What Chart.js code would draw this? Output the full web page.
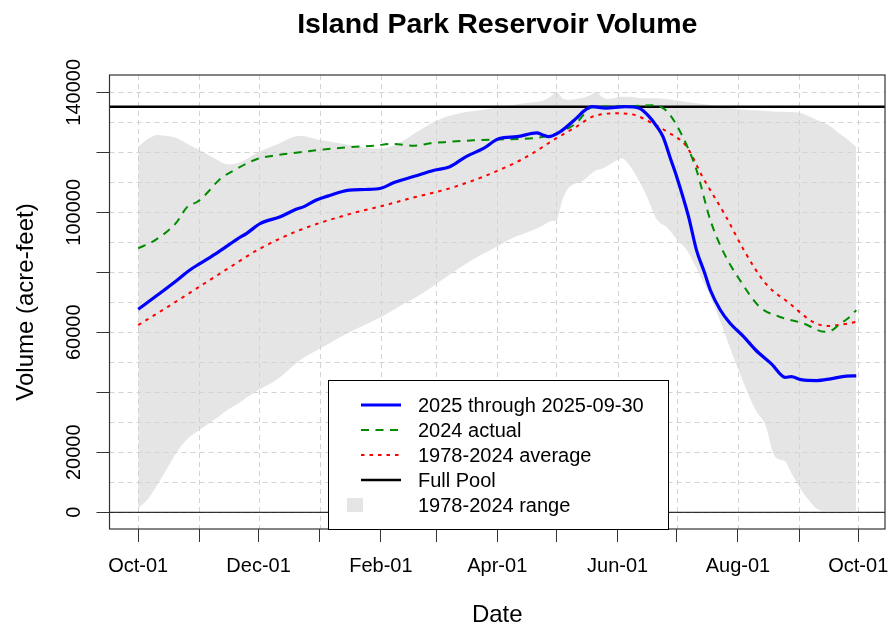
<!DOCTYPE html>
<html>
<head>
<meta charset="utf-8">
<script src="https://cdn.jsdelivr.net/npm/chart.js@4"></script>
<style>
  html, body { margin: 0; padding: 0; background: #ffffff; }
  #wrap { width: 891px; height: 625px; }
</style>
</head>
<body>
<div id="wrap"><canvas id="c" width="891" height="625"></canvas></div>
<script>
// Water-year day numbers (0 = Oct 1) for the first day of each month
const monthDays = [0, 31, 61, 92, 123, 151, 182, 212, 243, 273, 304, 335, 365];
const monthLabels = ['Oct-01', '', 'Dec-01', '', 'Feb-01', '', 'Apr-01', '', 'Jun-01', '', 'Aug-01', '', 'Oct-01'];

// Volume axis ticks (acre-feet)
const volumeTicks = [0, 20000, 40000, 60000, 80000, 100000, 120000, 140000];
const volumeTickLabels = ['0', '20000', '', '60000', '', '100000', '', '140000'];

const FULL_POOL = 135205;

// 1978-2024 historical envelope
const rangeDays = [0, 5, 10, 15, 20, 25, 31, 40, 45, 50, 55, 61, 70, 82, 92, 100, 107, 115, 123, 132,
  143, 153, 163, 173, 183, 190, 198, 205, 209, 212, 215, 218, 222, 226, 229, 232, 235, 238, 243, 245,
  248, 253, 258, 263, 268, 273, 278, 284, 290, 296, 301, 307, 313, 318, 322, 326, 328, 330, 335, 340,
  345, 350, 355, 360, 364];
const rangeMax = [121900, 124500, 125800, 125400, 124600, 122800, 120800, 117500, 116000, 116300, 117800, 120000, 122500, 125500, 124100, 123300, 122400, 121500, 121200, 123000,
  127500, 131000, 133000, 134000, 135000, 135800, 136500, 137200, 138500, 140200, 138000, 137500, 137800, 138300, 139000, 140200, 138500, 137800, 138300, 138500,
  138500, 138200, 138000, 138000, 137800, 137300, 136800, 136300, 135800, 135200, 134700, 134300, 134000, 133800, 133600, 133500, 133500, 133400, 133200, 132000,
  130500, 129000, 126500, 124000, 121800];
const rangeMin = [1300, 4500, 9500, 15000, 20500, 24500, 27400, 31500, 34000, 36000, 38300, 40800, 44100, 50700, 54500, 57500, 60000, 62500, 65000, 68500,
  72500, 77000, 81500, 85500, 89000, 91500, 93500, 95500, 97000, 97400, 104000, 108000, 109700, 110800, 112500, 114000, 114500, 115500, 117500, 118000,
  116500, 111500, 105000, 97500, 95000, 91000, 87400, 80000, 72000, 62000, 53000, 43000, 34000, 29000, 19500, 17400, 17000, 14500, 8500, 4000,
  800, 500, 500, 500, 500];

// Water year 2025 through 2025-09-30
const wy2025Days = [0, 10, 20, 26, 31, 40, 50, 55, 62, 72, 80, 84, 90, 96, 107, 115, 123, 130, 140, 150,
  158, 166, 175, 183, 192, 202, 205, 208, 214, 222, 226, 230, 237, 247, 254, 259, 263, 266, 270, 273,
  279, 283, 287, 290, 295, 300, 307, 313, 321, 328, 331, 336, 344, 351, 359, 364];
const wy2025Vol = [67700, 72500, 77500, 80700, 82800, 86500, 91000, 93000, 96300, 98500, 101000, 101900, 104000, 105400, 107400, 107600, 108000, 110000, 112000, 114000,
  115200, 118500, 121300, 124600, 125200, 126500, 125800, 125200, 126900, 131300, 133800, 135200, 134700, 135200, 134700, 131900, 128500, 125200, 117500, 111800,
  98500, 87400, 80000, 74100, 67500, 63000, 58500, 54100, 49500, 45000, 45200, 44200, 43900, 44500, 45400, 45500];

// Water year 2024 actual
const wy2024Days = [0, 8, 19, 25, 30, 35, 41, 50, 60, 70, 82, 95, 107, 120, 128, 140, 148, 158, 170, 183,
  200, 212, 222, 230, 240, 250, 262, 266, 269, 276, 283, 290, 297, 305, 315, 325, 337, 348, 352, 355,
  360, 364];
const wy2024Vol = [88000, 90500, 96300, 101900, 103500, 106500, 110800, 114500, 117700, 119000, 120000, 121000, 121700, 122200, 122800, 122200, 123000, 123500, 124000, 124300,
  124700, 126300, 129700, 135000, 135300, 135400, 135700, 134700, 133000, 125200, 114100, 97400, 86300, 77400, 68500, 65200, 63000, 60200, 60800, 62400,
  64800, 67400];

// 1978-2024 daily average
const avgDays = [0, 15, 31, 47, 62, 82, 107, 123, 140, 158, 175, 183, 192, 200, 212, 222, 230, 242, 252, 259,
  268, 278, 286, 298, 307, 318, 330, 342, 349, 355, 364];
const avgVol = [62400, 68500, 75200, 81900, 88000, 94100, 99400, 102000, 105000, 108000, 111900, 114100, 116800, 119700, 124700, 128500, 131800, 133000, 132400, 130200,
  126900, 121900, 111900, 98500, 87400, 76300, 69700, 63500, 62100, 62400, 63500];

const FONT = '"Liberation Sans", Arial, Helvetica, sans-serif';
const X_MIN = -14.56, X_MAX = 378.56;
const Y_MIN = -5567, Y_MAX = 145767;

const pts = (days, vols) => days.map((d, i) => ({ x: d, y: vols[i] }));

const lineBase = { pointRadius: 0, pointHoverRadius: 0, fill: false, cubicInterpolationMode: 'monotone' };

const datasets = [
  Object.assign({}, lineBase, { label: '1978-2024 range', data: pts(rangeDays, rangeMax), borderWidth: 0, borderColor: 'rgba(0,0,0,0)',
    backgroundColor: '#e5e5e5', fill: '+1', order: 10, swatch: true }),
  Object.assign({}, lineBase, { label: '', data: pts(rangeDays, rangeMin), borderWidth: 0, borderColor: 'rgba(0,0,0,0)', order: 10 }),
  Object.assign({}, lineBase, { label: '', data: [{ x: X_MIN, y: 0 }, { x: X_MAX, y: 0 }], borderColor: '#000000', borderWidth: 1, order: 6 }),
  Object.assign({}, lineBase, { label: 'Full Pool', data: [{ x: X_MIN, y: FULL_POOL }, { x: X_MAX, y: FULL_POOL }], borderColor: '#000000', borderWidth: 2.5, order: 5 }),
  Object.assign({}, lineBase, { label: '1978-2024 average', data: pts(avgDays, avgVol), borderColor: '#ff0000', borderWidth: 2, borderDash: [3.5, 5], order: 3 }),
  Object.assign({}, lineBase, { label: '2024 actual', data: pts(wy2024Days, wy2024Vol), borderColor: '#008b00', borderWidth: 2, borderDash: [8, 6.5], order: 2 }),
  Object.assign({}, lineBase, { label: '2025 through 2025-09-30', data: pts(wy2025Days, wy2025Vol), borderColor: '#0000ff', borderWidth: 3.2, order: 1 })
];

const legendOrder = ['2025 through 2025-09-30', '2024 actual', '1978-2024 average', 'Full Pool', '1978-2024 range'];

const decor = {
  id: 'decor',
  // dashed grid drawn over the range band, beneath the lines
  beforeDatasetsDraw(chart) {
    const { ctx, chartArea: a, scales: { x, y } } = chart;
    ctx.save();
    ctx.beginPath();
    ctx.rect(a.left, a.top, a.right - a.left, a.bottom - a.top);
    ctx.clip();
    ctx.strokeStyle = '#d3d3d3';
    ctx.lineWidth = 1;
    ctx.setLineDash([5, 4]);
    monthDays.forEach(d => {
      const px = Math.round(x.getPixelForValue(d)) + 0.5;
      ctx.beginPath(); ctx.moveTo(px, a.top); ctx.lineTo(px, a.bottom); ctx.stroke();
    });
    for (let v = 0; v <= 140000; v += 10000) {
      const py = Math.round(y.getPixelForValue(v)) + 0.5;
      ctx.beginPath(); ctx.moveTo(a.left, py); ctx.lineTo(a.right, py); ctx.stroke();
    }
    ctx.restore();
  },
  afterDraw(chart) {
    const { ctx, chartArea: a } = chart;
    ctx.save();
    // plot frame
    ctx.strokeStyle = '#333333';
    ctx.lineWidth = 1.2;
    ctx.setLineDash([]);
    ctx.strokeRect(a.left, a.top, a.right - a.left, a.bottom - a.top);

    // legend
    const bx = 328, by = 380, bw = 340, bh = a.bottom - 380;
    ctx.fillStyle = '#ffffff';
    ctx.fillRect(bx, by, bw, bh);
    ctx.strokeStyle = '#000000';
    ctx.lineWidth = 1;
    ctx.strokeRect(bx + 0.5, by + 0.5, bw, bh);
    ctx.font = '20px ' + FONT;
    ctx.textBaseline = 'middle';
    ctx.textAlign = 'left';
    legendOrder.forEach((name, i) => {
      const ds = chart.data.datasets.find(d => d.label === name);
      const ry = 405 + i * 25;
      if (ds.swatch) {
        ctx.fillStyle = ds.backgroundColor;
        ctx.fillRect(347, ry - 7, 16, 14);
      } else {
        ctx.strokeStyle = ds.borderColor;
        ctx.lineWidth = ds.borderWidth;
        ctx.setLineDash(ds.borderDash || []);
        ctx.beginPath(); ctx.moveTo(361, ry); ctx.lineTo(401, ry); ctx.stroke();
        ctx.setLineDash([]);
      }
      ctx.fillStyle = '#000000';
      ctx.fillText(name, 418, ry + 1);
    });

    // main title
    ctx.font = 'bold 28.5px ' + FONT;
    ctx.textAlign = 'center';
    ctx.textBaseline = 'alphabetic';
    ctx.fillStyle = '#000000';
    ctx.fillText('Island Park Reservoir Volume', (a.left + a.right) / 2, 33);
    ctx.restore();
  }
};

new Chart(document.getElementById('c'), {
  type: 'line',
  data: { datasets },
  options: {
    responsive: false,
    animation: false,
    devicePixelRatio: 1,
    layout: { padding: { left: 0, right: 6, top: 75, bottom: 0 } },
    plugins: {
      legend: { display: false },
      tooltip: { enabled: false },
      filler: { drawTime: 'beforeDatasetsDraw' }
    },
    scales: {
      x: {
        type: 'linear', min: X_MIN, max: X_MAX,
        afterBuildTicks: s => { s.ticks = monthDays.map(v => ({ value: v })); },
        afterFit: s => { s.height = 96; s.paddingLeft = 0; s.paddingRight = 0; },
        ticks: {
          autoSkip: false, maxRotation: 0, minRotation: 0, padding: 12, color: '#000000',
          font: { family: FONT, size: 20 },
          callback: v => monthLabels[monthDays.indexOf(v)] || ''
        },
        grid: { drawOnChartArea: false, drawTicks: true, tickLength: 13, tickColor: '#333333', tickWidth: 1 },
        border: { display: false },
        title: { display: true, text: 'Date', color: '#000000', font: { family: FONT, size: 24 }, padding: { top: 0, bottom: -5 } }
      },
      y: {
        type: 'linear', min: Y_MIN, max: Y_MAX,
        afterBuildTicks: s => { s.ticks = volumeTicks.map(v => ({ value: v })); },
        afterFit: s => { s.width = 109.5; s.paddingTop = 0; s.paddingBottom = 0; },
        ticks: {
          autoSkip: false, minRotation: 90, maxRotation: 90, crossAlign: 'center', padding: -11, color: '#000000',
          font: { family: FONT, size: 20 },
          callback: v => volumeTickLabels[volumeTicks.indexOf(v)] || ''
        },
        grid: { drawOnChartArea: false, drawTicks: true, tickLength: 13, tickColor: '#333333', tickWidth: 1 },
        border: { display: false },
        title: { display: true, text: 'Volume (acre-feet)', color: '#000000', font: { family: FONT, size: 24 }, padding: { top: 12, bottom: 0 } }
      }
    }
  },
  plugins: [decor]
});
</script>
</body>
</html>
